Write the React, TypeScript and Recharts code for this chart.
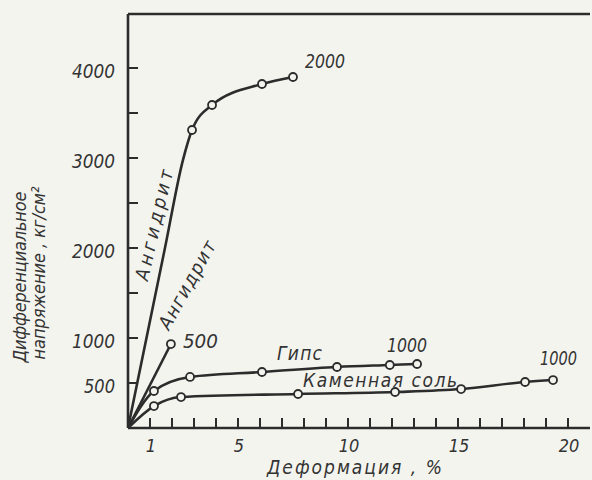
import React from 'react';
import { LineChart, Line, XAxis, YAxis, ReferenceLine } from 'recharts';

// ---- axis ticks ----
const xTicks = [1, 2, 3, 4, 5, 6, 7, 8, 9, 10, 11, 12, 13, 14, 15, 16, 17, 18, 19, 20];
const xTickLabels = [1, 5, 10, 15, 20];
const yTicks = [500, 1000, 1500, 2000, 2500, 3000, 3500, 4000];
const yTickLabels = [500, 1000, 2000, 3000, 4000];

// ---- series: Ангидрит (2000) ----
const anh2000X = [0, 1.68, 2.5, 2.91, 3.82, 6.09, 7.5];
const anh2000Y = [0, 2000, 2980, 3311, 3589, 3822, 3900];
const anh2000M = [0, 0, 0, 1, 1, 1, 1];

// ---- series: Ангидрит (500) ----
const anh500X = [0, 1.95];
const anh500Y = [0, 933];
const anh500M = [0, 1];

// ---- series: Гипс (1000) ----
const gypsumX = [0, 1.18, 2.82, 6.09, 9.5, 11.9, 13.14];
const gypsumY = [0, 411, 567, 622, 678, 700, 711];
const gypsumM = [0, 1, 1, 1, 1, 1, 1];

// ---- series: Каменная соль (1000) ----
const saltX = [0, 1.18, 2.41, 7.73, 12.14, 15.14, 18.05, 19.32];
const saltY = [0, 244, 344, 378, 400, 433, 511, 533];
const saltM = [0, 1, 1, 1, 1, 1, 1, 1];

const build = (xs: number[], ys: number[], ms: number[]) =>
  xs.map((x, i) => ({ x, y: ys[i], m: ms[i] }));

const anh2000 = build(anh2000X, anh2000Y, anh2000M);
const anh500 = build(anh500X, anh500Y, anh500M);
const gypsum = build(gypsumX, gypsumY, gypsumM);
const salt = build(saltX, saltY, saltM);

const INK = '#2c2c2c';
const TXT = '#333333';
const BG = '#f4f4ef';
const FONT = "'Liberation Sans Narrow','DejaVu Sans Condensed','DejaVu Sans',sans-serif";

type Ann = { i: number; text: string; dx: number; dy: number; len: number; size: number; rot?: number; glyph?: boolean };

const annotations: Record<string, Ann[]> = {
  anh2000: [
    { i: 6, text: '2000', dx: 12, dy: -9, len: 40, size: 20, glyph: true },
    { i: 1, text: 'Ангидрит', dx: -11, dy: -23, len: 113, size: 19, rot: -77 },
  ],
  anh500: [
    { i: 1, text: '500', dx: 12, dy: 4, len: 35, size: 20, glyph: true },
    { i: 1, text: 'Ангидрит', dx: 16, dy: -59, len: 98, size: 19, rot: -61 },
  ],
  gypsum: [
    { i: 6, text: '1000', dx: -30, dy: -12, len: 40, size: 20, glyph: true },
    { i: 4, text: 'Гипс', dx: -60, dy: -7, len: 45, size: 19 },
  ],
  salt: [
    { i: 7, text: '1000', dx: -13, dy: -15, len: 37, size: 20, glyph: true },
    { i: 4, text: 'Каменная соль', dx: -92, dy: -5, len: 154, size: 19 },
  ],
};

const makeLabel = (key: string) => (props: any) => {
  const { x, y, index } = props;
  const items = annotations[key].filter((a) => a.i === index);
  if (!items.length) return <g key={`${key}-l-${index}`} />;
  return (
    <g key={`${key}-l-${index}`}>
      {items.map((a, k) =>
        a.rot !== undefined ? (
          <g key={k} transform={`translate(${x + a.dx},${y + a.dy}) rotate(${a.rot})`}>
            <text
              x={0}
              y={0}
              dy="0.35em"
              textAnchor="middle"
              textLength={a.len}
              lengthAdjust="spacing"
              fontFamily={FONT}
              fontStyle="italic"
              fontSize={a.size}
              fill={TXT}
            >
              {a.text}
            </text>
          </g>
        ) : (
          <text
            key={k}
            x={x + a.dx}
            y={y + a.dy}
            textLength={a.len}
            lengthAdjust={a.glyph ? 'spacingAndGlyphs' : 'spacing'}
            fontFamily={FONT}
            fontStyle="italic"
            fontSize={a.size}
            fill={TXT}
          >
            {a.text}
          </text>
        )
      )}
    </g>
  );
};

const renderDot = (props: any) => {
  const { cx, cy, payload, index, dataKey } = props;
  if (!payload || !payload.m) return <g key={`d-${dataKey}-${index}-${cx}`} />;
  return <circle key={`d-${index}-${cx}`} cx={cx} cy={cy} r={4} fill={BG} stroke={INK} strokeWidth={1.8} />;
};

const YTick = (props: any) => {
  const { x, y, payload } = props;
  const v = payload.value;
  const show = yTickLabels.includes(v);
  return (
    <g>
      <path d={`M${x},${y}L${x + 10},${y}`} stroke={INK} strokeWidth={2} />
      {show && (
        <text
          x={x - 13}
          y={y + 10}
          textAnchor="end"
          textLength={String(v).length === 4 ? 43 : 31}
          lengthAdjust="spacingAndGlyphs"
          fontFamily={FONT}
          fontStyle="italic"
          fontSize={20}
          fill={TXT}
        >
          {v}
        </text>
      )}
    </g>
  );
};

const XTick = (props: any) => {
  const { x, y, payload } = props;
  const v = payload.value;
  const show = xTickLabels.includes(v);
  return (
    <g>
      <path d={`M${x},${y - 10}L${x},${y}`} stroke={INK} strokeWidth={2} />
      {show && (
        <text
          x={x + 1}
          y={y + 24}
          textAnchor="middle"
          fontFamily={FONT}
          fontStyle="italic"
          fontSize={18}
          fill={TXT}
        >
          {v}
        </text>
      )}
    </g>
  );
};

const yLabel = (props: any) => {
  const vb = props.viewBox || { x: 0, y: 14, width: 128, height: 414 };
  const cy = vb.y + vb.height / 2;
  return (
    <g>
      <text
        transform={`translate(${vb.x + 26},${cy + 56}) rotate(-90)`}
        textAnchor="middle"
        textLength={171}
        lengthAdjust="spacing"
        fontFamily={FONT}
        fontStyle="italic"
        fontSize={18}
        fill={TXT}
      >
        Дифференциальное
      </text>
      <text
        transform={`translate(${vb.x + 45},${cy + 52}) rotate(-90)`}
        textAnchor="middle"
        textLength={173}
        lengthAdjust="spacing"
        fontFamily={FONT}
        fontStyle="italic"
        fontSize={18}
        fill={TXT}
      >
        напряжение , кг/см²
      </text>
    </g>
  );
};

const xLabel = (props: any) => {
  const vb = props.viewBox || { x: 128, y: 428, width: 462, height: 52 };
  return (
    <text
      x={vb.x + 139}
      y={vb.y + 46}
      textLength={175}
      lengthAdjust="spacing"
      fontFamily={FONT}
      fontStyle="italic"
      fontSize={19}
      fill={TXT}
    >
      Деформация , %
    </text>
  );
};

export default function App() {
  const lineProps = {
    dataKey: 'y',
    stroke: INK,
    strokeWidth: 2.6,
    isAnimationActive: false,
    dot: renderDot,
    activeDot: false,
  } as any;
  return (
    <div style={{ position: 'absolute', left: 0, top: 0, width: 592, height: 480, background: BG }}>
      <LineChart width={592} height={480} margin={{ top: 14, right: 2, left: 0, bottom: 0 }}>
        <XAxis
          type="number"
          dataKey="x"
          domain={[0, 21]}
          ticks={xTicks}
          interval={0}
          height={52}
          tick={<XTick />}
          tickLine={false}
          tickSize={0}
          tickMargin={0}
          axisLine={{ stroke: INK, strokeWidth: 2.6 }}
          allowDataOverflow
          label={xLabel}
        />
        <YAxis
          type="number"
          domain={[0, 4600]}
          ticks={yTicks}
          interval={0}
          width={128}
          tick={<YTick />}
          tickLine={false}
          tickSize={0}
          tickMargin={0}
          axisLine={{ stroke: INK, strokeWidth: 2.6 }}
          allowDataOverflow
          label={yLabel}
        />
        <ReferenceLine y={4600} stroke={INK} strokeWidth={2.6} ifOverflow="visible" />
        <Line {...lineProps} data={anh2000} type="monotone" label={makeLabel('anh2000')} />
        <Line {...lineProps} data={anh500} type="linear" label={makeLabel('anh500')} />
        <Line {...lineProps} data={gypsum} type="monotone" label={makeLabel('gypsum')} />
        <Line {...lineProps} data={salt} type="monotone" label={makeLabel('salt')} />
      </LineChart>
    </div>
  );
}
